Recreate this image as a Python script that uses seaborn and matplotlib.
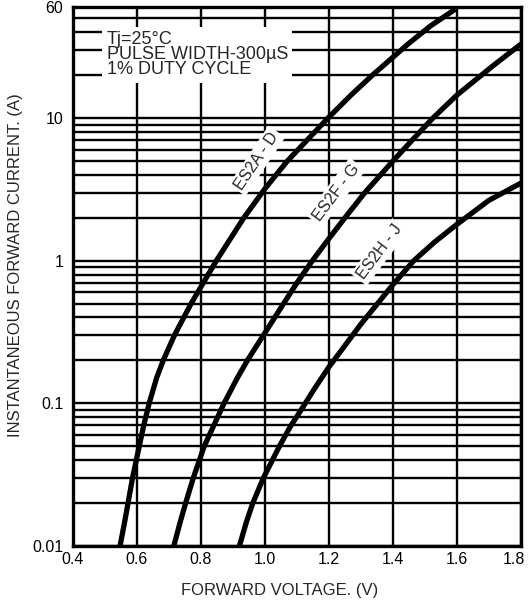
import matplotlib
matplotlib.use("Agg")
import numpy as np
import pandas as pd
import matplotlib.pyplot as plt
import matplotlib.transforms as mtransforms
import seaborn as sns
from matplotlib.ticker import FixedLocator, LogLocator, NullFormatter

# ---- data ----
es2a_v = [0.547, 0.562, 0.572, 0.586, 0.607, 0.621, 0.638, 0.661, 0.682, 0.717, 0.769,
          0.848, 0.934, 1.000, 1.070, 1.197, 1.269, 1.336, 1.447, 1.516, 1.595]
es2a_i = [0.010, 0.015, 0.020, 0.030, 0.050, 0.070, 0.100, 0.150, 0.200, 0.300, 0.500,
          1.000, 2.000, 3.200, 5.000, 10.00, 14.50, 20.00, 33.00, 44.00, 58.00]

es2f_v = [0.715, 0.736, 0.752, 0.776, 0.810, 0.840, 0.872, 0.913, 0.945, 0.995, 1.058,
          1.100, 1.148, 1.200, 1.250, 1.312, 1.400, 1.460, 1.525, 1.600, 1.710, 1.800]
es2f_i = [0.010, 0.015, 0.020, 0.030, 0.050, 0.070, 0.100, 0.150, 0.200, 0.300, 0.500,
          0.700, 1.000, 1.430, 2.000, 3.000, 5.000, 7.000, 10.00, 14.50, 23.00, 33.00]

es2h_v = [0.920, 0.943, 0.962, 0.995, 1.045, 1.078, 1.117, 1.154, 1.200, 1.300, 1.400,
          1.465, 1.530, 1.600, 1.700, 1.800]
es2h_i = [0.010, 0.015, 0.020, 0.030, 0.050, 0.068, 0.093, 0.126, 0.180, 0.360, 0.680,
          1.000, 1.350, 1.800, 2.650, 3.500]

series_names = ["ES2A - D", "ES2F - G", "ES2H - J"]
x_ticks = [0.4, 0.6, 0.8, 1.0, 1.2, 1.4, 1.6, 1.8]
x_tick_labels = ["0.4", "0.6", "0.8", "1.0", "1.2", "1.4", "1.6", "1.8"]
y_ticks = [0.01, 0.1, 1, 10, 60]
y_tick_labels = ["0.01", "0.1", "1", "10", "60"]
note_lines = ["Tj=25°C", "PULSE WIDTH-300µS", "1% DUTY CYCLE"]

df = pd.concat([
    pd.DataFrame({"V": es2a_v, "I": es2a_i, "series": series_names[0]}),
    pd.DataFrame({"V": es2f_v, "I": es2f_i, "series": series_names[1]}),
    pd.DataFrame({"V": es2h_v, "I": es2h_i, "series": series_names[2]}),
])

sns.set_style("white")
plt.rcParams['font.family'] = ['Liberation Sans', 'DejaVu Sans']

fig = plt.figure(figsize=(5.28, 6.05), dpi=100)
ax = fig.add_axes([73/528, 59/605, 448/528, 539/605])

sns.lineplot(data=df, x="V", y="I", hue="series", units="series", estimator=None,
             sort=False, palette=["black"]*3, linewidth=3.8, legend=False, ax=ax,
             zorder=5)
for ln in ax.get_lines():
    ln.set_solid_joinstyle("round")
    ln.set_solid_capstyle("butt")

ax.set_yscale("log")
ax.set_xlim(0.4, 1.8)
ax.set_ylim(0.01, 60)

ax.xaxis.set_major_locator(FixedLocator(x_ticks))
ax.set_xticklabels(x_tick_labels)
ax.yaxis.set_major_locator(FixedLocator(y_ticks))
ax.set_yticklabels(y_tick_labels)
ax.yaxis.set_minor_locator(LogLocator(base=10, subs=np.arange(2, 10)))
ax.yaxis.set_minor_formatter(NullFormatter())

ax.grid(True, which="major", axis="both", color="black", linewidth=1.7, zorder=1)
ax.grid(True, which="minor", axis="y", color="black", linewidth=1.7, zorder=1)
ax.set_axisbelow(True)
ax.tick_params(axis="both", which="both", length=0, labelsize=11.5, colors="black")
ax.tick_params(axis="y", pad=7)
ax.tick_params(axis="x", pad=4)

# keep the last x tick label inside the figure edge
last_lbl = ax.get_xticklabels()[-1]
last_lbl.set_transform(last_lbl.get_transform() +
                       mtransforms.ScaledTranslation(-5/72, 0, fig.dpi_scale_trans))

for s in ax.spines.values():
    s.set_color("black")
    s.set_linewidth(2.4)

ax.set_xlabel("FORWARD VOLTAGE. (V)", fontsize=12)
ax.xaxis.set_label_coords((280 - 73) / 448, -(583 - 546) / 539)
ax.set_ylabel("INSTANTANEOUS FORWARD CURRENT. (A)", fontsize=12)
ax.yaxis.set_label_coords(-(73 - 23) / 448, (546 - 265) / 539)

ax.text(0.075, 0.955, "\n".join(note_lines), transform=ax.transAxes, fontsize=13,
        va="top", ha="left", linespacing=0.85, zorder=6,
        bbox=dict(facecolor="white", edgecolor="none", pad=3))

label_pos = [(0.975, 5.0, 56), (1.222, 3.0, 53), (1.358, 1.15, 53)]
for name, (lx, ly, rot) in zip(series_names, label_pos):
    ax.text(lx, ly, name, rotation=rot, rotation_mode="anchor", ha="center", va="center",
            fontsize=11.5, zorder=6,
            bbox=dict(facecolor="white", edgecolor="none", pad=2))

fig.savefig("out.png", dpi=100)
